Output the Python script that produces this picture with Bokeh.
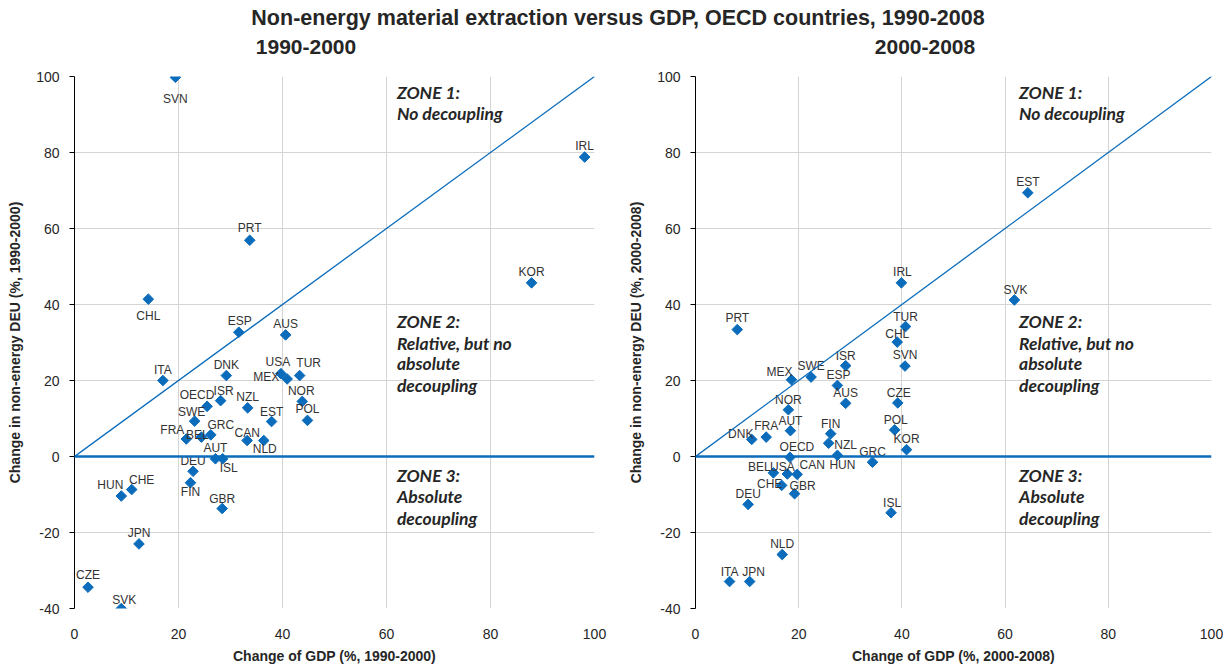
import numpy as np
from bokeh.plotting import figure
from bokeh.models import ColumnDataSource, Div, FixedTicker, Range1d, Slope, Span
from bokeh.layouts import column, row
from bokeh.embed import file_html
from bokeh.resources import INLINE
from bokeh.core.properties import value

# ---------------- data ----------------
countries_a = ["SVN", "IRL", "PRT", "KOR", "CHL", "ESP", "AUS", "DNK", "USA", "MEX", "TUR", "ITA",
               "OECD", "ISR", "NZL", "NOR", "SWE", "EST", "POL", "FRA", "BEL", "GRC", "CAN", "NLD",
               "AUT", "ISL", "DEU", "FIN", "HUN", "CHE", "GBR", "JPN", "CZE", "SVK"]
gdp_a = [19.4, 98.1, 33.7, 87.9, 14.2, 31.6, 40.6, 29.2, 39.7, 40.9, 43.3, 17.0,
         25.5, 28.1, 33.3, 43.8, 23.1, 37.9, 44.8, 21.5, 24.4, 26.2, 33.2, 36.4,
         27.1, 28.5, 22.8, 22.3, 9.0, 11.0, 28.4, 12.4, 2.6, 9.0]
deu_a = [99.8, 78.8, 56.9, 45.7, 41.4, 32.7, 32.0, 21.3, 21.8, 20.4, 21.3, 20.0,
         13.2, 14.7, 12.8, 14.5, 9.3, 9.2, 9.5, 4.6, 5.1, 5.7, 4.2, 4.2,
         -0.6, -0.6, -3.9, -6.9, -10.4, -8.7, -13.7, -23.0, -34.4, -40.0]

countries_b = ["EST", "IRL", "SVK", "TUR", "PRT", "CHL", "ISR", "SVN", "MEX", "SWE", "ESP", "AUS",
               "CZE", "NOR", "AUT", "FRA", "DNK", "FIN", "NZL", "POL", "KOR", "OECD", "HUN", "GRC",
               "BEL", "USA", "CAN", "CHE", "GBR", "DEU", "ISL", "NLD", "ITA", "JPN"]
gdp_b = [64.4, 39.9, 61.8, 40.7, 8.1, 39.1, 29.1, 40.6, 18.6, 22.4, 27.5, 29.1,
         39.2, 18.0, 18.4, 13.7, 10.9, 26.2, 25.8, 38.6, 40.9, 18.3, 27.5, 34.3,
         15.1, 17.8, 19.7, 16.7, 19.2, 10.2, 37.9, 16.8, 6.6, 10.5]
deu_b = [69.4, 45.7, 41.2, 34.2, 33.4, 30.1, 23.9, 23.8, 20.2, 20.9, 18.7, 14.0,
         14.1, 12.3, 6.8, 5.1, 4.5, 6.0, 3.5, 7.0, 1.8, -0.2, 0.3, -1.5,
         -4.3, -4.6, -4.7, -7.6, -9.8, -12.6, -14.8, -25.8, -32.9, -32.9]

x_ticks = [0, 20, 40, 60, 80, 100]
y_ticks = [-40, -20, 0, 20, 40, 60, 80, 100]
y_tick_labels = ["-40", "-20", "0", "20", "40", "60", "80", "100"]

zone_lines = ["ZONE 1:", "No decoupling",
              "ZONE 2:", "Relative, but no", "absolute", "decoupling",
              "ZONE 3:", "Absolute", "decoupling"]

main_title = "Non-energy material extraction versus GDP, OECD countries, 1990-2008"

# ---------------- styling (label offsets in screen px: right, down) ----------------
off_a = {"SVN": (0, 22), "IRL": (0, -11), "PRT": (0, -12), "KOR": (0, -11), "CHL": (0, 17),
         "ESP": (1, -11), "AUS": (0, -11), "DNK": (0, -11), "USA": (-3, -12), "MEX": (-21, -2),
         "TUR": (9, -13), "ITA": (0, -11), "OECD": (-10, -11), "ISR": (3, -10), "NZL": (0, -11),
         "NOR": (-1, -10), "SWE": (-3, -9), "EST": (0, -10), "POL": (0, -11), "FRA": (-14, -9),
         "BEL": (-4, -2), "GRC": (10, -10), "CAN": (0, -8), "NLD": (1, 8), "AUT": (0, -11),
         "ISL": (6, 9), "DEU": (0, -10), "FIN": (0, 9), "HUN": (-11, -11), "CHE": (10, -10),
         "GBR": (0, -10), "JPN": (0, -11), "CZE": (0, -12), "SVK": (3, -9)}
off_b = {"EST": (0, -11), "IRL": (1, -11), "SVK": (1, -10), "TUR": (0, -10), "PRT": (0, -12),
         "CHL": (0, -8), "ISR": (0, -10), "SVN": (0, -11), "MEX": (-12, -8), "SWE": (0, -11),
         "ESP": (1, -10), "AUS": (0, -10), "CZE": (1, -10), "NOR": (0, -10), "AUT": (0, -10),
         "FRA": (0, -11), "DNK": (-11, -5), "FIN": (0, -10), "NZL": (17, 2), "POL": (1, -10),
         "KOR": (0, -11), "OECD": (7, -10), "HUN": (5, 10), "GRC": (0, -10), "BEL": (-14, -6),
         "USA": (-5, -7), "CAN": (15, -9), "CHE": (-12, -1), "GBR": (8, -8), "DEU": (0, -10),
         "ISL": (1, -10), "NLD": (0, -11), "ITA": (0, -10), "JPN": (4, -10)}

zone_y = [95.9, 90.3, 35.6, 29.8, 24.4, 18.7, -5.0, -10.5, -16.3]

BLUE = "#0b6cbb"
TXT = "#262626"
FONT = "Liberation Sans"
FRAME_H = 532


def make_panel(countries, gdp, deu, offs, period, frame_w, min_left, min_right, zone_x):
    p = figure(frame_width=frame_w, frame_height=FRAME_H,
               x_range=Range1d(0, 100), y_range=Range1d(-40, 100),
               output_backend="svg", toolbar_location=None,
               min_border_left=min_left, min_border_right=min_right,
               min_border_top=18, min_border_bottom=54)
    p.outline_line_color = None
    p.background_fill_color = "white"
    p.border_fill_color = "white"

    for g in (p.xgrid, p.ygrid):
        g.grid_line_color = "#d4d4d4"
        g.grid_line_width = 1
    p.xaxis.ticker = FixedTicker(ticks=x_ticks)
    p.yaxis.ticker = FixedTicker(ticks=y_ticks)
    p.xgrid.ticker = FixedTicker(ticks=x_ticks)
    p.ygrid.ticker = FixedTicker(ticks=y_ticks)
    p.yaxis.major_label_overrides = {t: l for t, l in zip(y_ticks, y_tick_labels)}

    p.xaxis.axis_line_color = None
    p.xaxis.major_tick_line_color = None
    p.xaxis.minor_tick_line_color = None
    p.xaxis.major_label_standoff = 14
    p.xaxis.axis_label = f"Change of GDP (%, {period})"
    p.xaxis.axis_label_standoff = 6

    p.yaxis.axis_line_color = "black"
    p.yaxis.major_tick_line_color = "black"
    p.yaxis.major_tick_out = 5
    p.yaxis.major_tick_in = 0
    p.yaxis.minor_tick_line_color = None
    p.yaxis.major_label_standoff = 10
    p.yaxis.axis_label = f"Change in non-energy DEU (%, {period})"
    p.yaxis.axis_label_standoff = 10

    for ax in (p.xaxis, p.yaxis):
        ax.major_label_text_font = FONT
        ax.major_label_text_font_size = "14px"
        ax.major_label_text_color = TXT
        ax.axis_label_text_font = FONT
        ax.axis_label_text_font_size = "14px"
        ax.axis_label_text_font_style = "bold"
        ax.axis_label_text_color = TXT

    p.add_layout(Span(location=0, dimension="width", line_color=BLUE, line_width=2.5))
    p.add_layout(Slope(gradient=1, y_intercept=0, line_color=BLUE, line_width=1.3))

    src = ColumnDataSource(dict(
        x=gdp, y=deu, name=countries,
        dx=[offs[c][0] for c in countries],
        dy=[offs[c][1] for c in countries]))
    p.scatter("x", "y", source=src, marker="square", angle=np.pi / 4, size=7.5,
              fill_color=BLUE, line_color=BLUE)
    p.text("x", "y", text="name", source=src, x_offset="dx", y_offset="dy",
           text_align="center", text_baseline="middle",
           text_font=value(FONT), text_font_size="12px", text_color="#333333")

    p.text(x=[zone_x] * len(zone_lines), y=zone_y, text=zone_lines,
           text_align="left", text_baseline="middle",
           text_font=value("Lato"), text_font_size="17.5px", text_font_style="bold italic",
           text_color=TXT)
    return p


def title_div(text, width, center_x, height, size):
    return Div(text=(f'<div style="text-align:center;font-family:\'Liberation Sans\';'
                     f'font-weight:bold;font-size:{size}px;color:#262626;line-height:{height}px;'
                     f'width:{2 * center_x}px;white-space:nowrap;">{text}</div>'),
               width=width, height=height, margin=(0, 0, 0, 0))


p1 = make_panel(countries_a, gdp_a, deu_a, off_a, "1990-2000", 520, 74, 26, 62.0)
p2 = make_panel(countries_b, gdp_b, deu_b, off_b, "2000-2008", 516, 75, 12, 62.7)

head = title_div(main_title, 1223, 618, 36, 21.5)
sub1 = title_div("1990-2000", 620, 306, 22, 21)
sub2 = title_div("2000-2008", 603, 305, 22, 21)

layout = column(head, row(sub1, sub2, spacing=0), row(p1, p2, spacing=0), spacing=0)
open("out.html", "w").write(file_html(layout, INLINE))
